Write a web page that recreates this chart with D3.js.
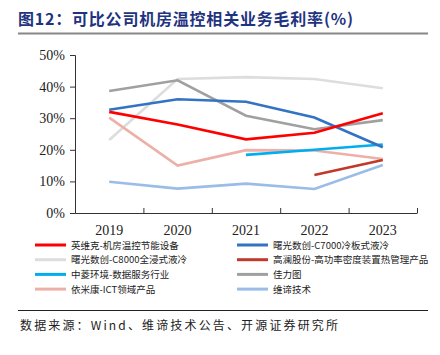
<!DOCTYPE html>
<html><head><meta charset="utf-8">
<script src="https://cdn.jsdelivr.net/npm/d3@7"></script>
<style>body{margin:0;background:#fff}</style>
</head><body>
<script>
const years = ["2019","2020","2021","2022","2023"];
const yTicks = [0,10,20,30,40,50];
const seriesNames = ["英维克-机房温控节能设备","曙光数创-C7000冷板式液冷","曙光数创-C8000全浸式液冷","高澜股份-高功率密度装置热管理产品","中菱环境-数据服务行业","佳力图","依米康-ICT领域产品","维谛技术"];
const seriesColors = ["#FF0000","#3373C4","#DDDDDD","#C0392B","#00AEEF","#A0A0A0","#EDB0A8","#9ABDE8"];
const sYingweike = [32.0,28.0,23.3,25.4,31.6];
const sC7000 = [32.7,36.0,35.2,30.2,20.8];
const sC8000 = [23.1,42.4,43.0,42.4,39.5];
const sGaolan = [null,null,null,12.0,16.8];
const sZhongling = [null,null,18.4,20.0,21.7];
const sJialitu = [38.6,42.0,30.8,26.5,29.4];
const sYimikang = [30.2,15.0,19.9,19.8,17.1];
const sWeidi = [9.9,7.7,9.3,7.6,15.2];
const seriesValues = [sYingweike,sC7000,sC8000,sGaolan,sZhongling,sJialitu,sYimikang,sWeidi];
const drawOrder = [2,6,7,5,4,3,1,0];

const W=440,H=355;
const svg=d3.select("body").append("svg").attr("width",W).attr("height",H);
const serif="'Liberation Serif','Times New Roman',serif";
const cjk="'Noto Sans CJK SC','Noto Sans',sans-serif";

// title
svg.append("text").attr("x",18).attr("y",25).attr("font-family",cjk).attr("font-weight","bold")
  .attr("font-size",16).attr("fill","#1F3480").attr("textLength",335).attr("lengthAdjust","spacing")
  .text("图12：可比公司机房温控相关业务毛利率(%)");
svg.append("line").attr("x1",18).attr("x2",428).attr("y1",33.5).attr("y2",33.5).attr("stroke","#888").attr("stroke-width",2);

const x=d3.scaleBand().domain(years).range([75,417]);
const y=d3.scaleLinear().domain([0,50]).range([213,55]);

const xAxis=svg.append("g").attr("transform","translate(0,213)")
  .call(d3.axisBottom(x).tickSize(0).tickPadding(12));
xAxis.select(".domain").attr("stroke","#333");
xAxis.selectAll("text").style("font-family",serif).style("font-size","14px").attr("fill","#222");
// ticks at band boundaries
const bounds=years.map(d=>x(d)).concat([x.range()[1]]);
svg.append("g").selectAll("line").data(bounds).join("line")
  .attr("x1",d=>d+0.5).attr("x2",d=>d+0.5).attr("y1",213).attr("y2",208).attr("stroke","#333");

const yAxis=svg.append("g").attr("transform","translate(75,0)")
  .call(d3.axisLeft(y).tickValues(yTicks).tickFormat(d=>d+"%").tickSize(5).tickPadding(5));
yAxis.select(".domain").attr("stroke","#333");
yAxis.selectAll(".tick line").attr("stroke","#333");
yAxis.selectAll("text").style("font-family",serif).style("font-size","14px").attr("fill","#222");

const line=d3.line().defined(d=>d!=null).x((d,i)=>x(years[i])+x.bandwidth()/2).y(d=>y(d));
drawOrder.forEach(k=>{
  svg.append("path").datum(seriesValues[k]).attr("d",line).attr("fill","none")
    .attr("stroke",seriesColors[k]).attr("stroke-width",2.6);
});

// legend
seriesNames.forEach((n,i)=>{
  const col=i%2,row=Math.floor(i/2);
  const lx=col?237:35, ly=245+row*14.7;
  svg.append("line").attr("x1",lx).attr("x2",lx+31).attr("y1",ly).attr("y2",ly)
    .attr("stroke",seriesColors[i]).attr("stroke-width",3);
  svg.append("text").attr("x",lx+36).attr("y",ly+3.5).attr("font-family",cjk)
    .attr("font-size",9.5).attr("fill","#222").text(n);
});

svg.append("line").attr("x1",18).attr("x2",428).attr("y1",310.5).attr("y2",310.5).attr("stroke","#222").attr("stroke-width",1);
svg.append("text").attr("x",20).attr("y",330).attr("font-family",cjk).attr("font-size",12).attr("fill","#222")
  .attr("textLength",318).attr("lengthAdjust","spacing")
  .text("数据来源：Wind、维谛技术公告、开源证券研究所");
</script>
</body></html>
